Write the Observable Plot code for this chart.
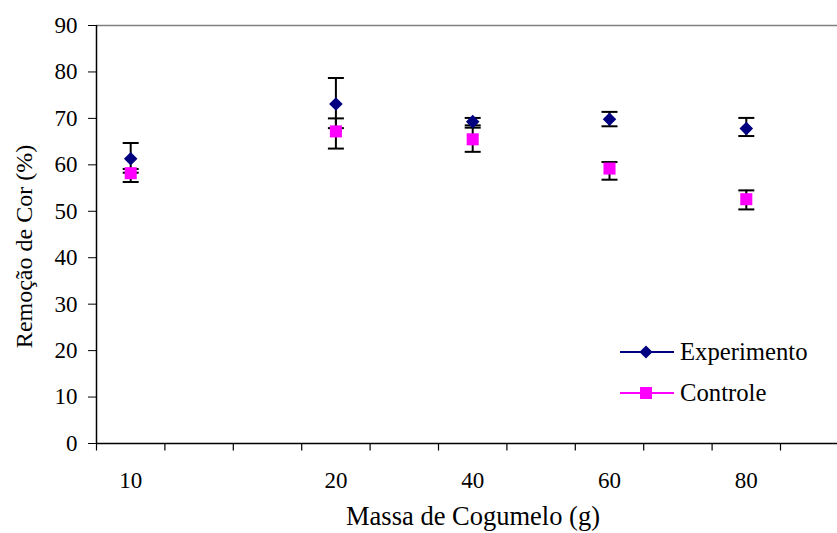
<!DOCTYPE html>
<html><head><meta charset="utf-8">
<script src="https://cdn.jsdelivr.net/npm/d3@7"></script>
<script src="https://cdn.jsdelivr.net/npm/@observablehq/plot@0.6"></script>
<style>
html,body{margin:0;padding:0;background:#fff;overflow:hidden}
</style>
</head><body><div id="chart"></div>
<script>
// Category axis (Excel-style, 11 category slots, only some labelled)
const massaLabels = ["10", "20", "40", "60", "80"];
const categorySlot = [0, 3, 5, 7, 9];
const slotCount = 11;
const yTicks = [0, 10, 20, 30, 40, 50, 60, 70, 80, 90];

// Series values
const seriesNames = ["Experimento", "Controle"];
const experimento   = [61.3, 73.1, 69.3, 69.8, 67.8];
const experimentoHi = [64.7, 78.7, 70.1, 71.4, 70.1];
const experimentoLo = [58.3, 67.9, 68.5, 68.3, 66.2];
const controle      = [58.2, 67.2, 65.5, 59.2, 52.6];
const controleHi    = [59.1, 70.0, 68.0, 60.6, 54.5];
const controleLo    = [56.3, 63.5, 62.8, 56.8, 50.4];

const expRows = massaLabels.map((m, i) => ({slot: categorySlot[i], massa: m, value: experimento[i], hi: experimentoHi[i], lo: experimentoLo[i]}));
const ctrlRows = massaLabels.map((m, i) => ({slot: categorySlot[i], massa: m, value: controle[i], hi: controleHi[i], lo: controleLo[i]}));
const allRows = expRows.concat(ctrlRows);
const boundaries = d3.range(slotCount + 1).map(i => i - 0.5);

const NAVY = "#000080", MAGENTA = "#FF00FF";
const FONT = "'Liberation Serif', 'Times New Roman', serif";
const capSymbol = {draw(ctx) { ctx.moveTo(-8, 0); ctx.lineTo(8, 0); }};
const tickDown = {draw(ctx) { ctx.moveTo(0, 0); ctx.lineTo(0, 7); }};
const slotPx = 68.4;

const chart = Plot.plot({
  width: 837,
  height: 533,
  marginLeft: 96,
  marginRight: 0,
  marginTop: 25,
  marginBottom: 90,
  style: {fontFamily: FONT, fontSize: "23px", color: "black", background: "white"},
  x: {
    domain: [-0.5, slotCount - 0.5],
    range: [96, 96 + slotCount * slotPx],
    ticks: categorySlot,
    tickFormat: d => massaLabels[categorySlot.indexOf(d)] ?? "",
    tickSize: 0,
    tickPadding: 28,
    label: null
  },
  y: {
    domain: [0, 90],
    range: [443, 25],
    ticks: yTicks,
    tickSize: 8,
    tickPadding: 11,
    label: null
  },
  marks: [
    Plot.ruleY([90], {stroke: "#808080", strokeWidth: 1.5}),
    Plot.ruleX([-0.5], {stroke: "black", strokeWidth: 1.5}),
    Plot.ruleY([0], {stroke: "black", strokeWidth: 1.5}),
    Plot.dot(boundaries, {x: d => d, frameAnchor: "bottom", symbol: tickDown, fill: "none", stroke: "black", strokeWidth: 1.2}),
    Plot.ruleX(allRows, {x: "slot", y1: "lo", y2: "hi", stroke: "black", strokeWidth: 2}),
    Plot.dot(allRows, {x: "slot", y: "hi", symbol: capSymbol, fill: "none", stroke: "black", strokeWidth: 2}),
    Plot.dot(allRows, {x: "slot", y: "lo", symbol: capSymbol, fill: "none", stroke: "black", strokeWidth: 2}),
    Plot.dot(expRows, {x: "slot", y: "value", symbol: "diamond2", r: 6.1, fill: NAVY, stroke: "none"}),
    Plot.dot(ctrlRows, {x: "slot", y: "value", symbol: "square", r: 6.8, fill: MAGENTA, stroke: "none"}),
    Plot.text(["Massa de Cogumelo (g)"], {frameAnchor: "bottom", textAnchor: "middle", dx: 6, dy: 81, fontSize: 26.5, fill: "black"}),
    Plot.text(["Remoção de Cor (%)"], {frameAnchor: "left", textAnchor: "middle", dx: -72, dy: 12, rotate: -90, fontSize: 24, fill: "black"})
  ]
});

// Axis tick label size (numeric tick labels)
const svg = d3.select(chart);
svg.selectAll("text").filter(function() { return /^\d+$/.test(this.textContent.trim()); })
  .attr("font-size", 23).style("font-size", "23px");

// Legend (inside the plot area, lower right)
const legendItems = [
  {name: seriesNames[0], color: NAVY, symbol: d3.symbolDiamond2, size: 110, y: 352},
  {name: seriesNames[1], color: MAGENTA, symbol: d3.symbolSquare, size: 144, y: 393}
];
const lg = svg.append("g").attr("font-family", FONT).attr("font-size", 24.7).attr("text-anchor", "start");
legendItems.forEach(it => {
  lg.append("line").attr("x1", 620).attr("x2", 674).attr("y1", it.y).attr("y2", it.y).attr("stroke", it.color).attr("stroke-width", 2);
  lg.append("path").attr("d", d3.symbol(it.symbol, it.size)()).attr("transform", `translate(646,${it.y})`).attr("fill", it.color);
  lg.append("text").attr("x", 680).attr("y", it.y).attr("dy", "0.34em").attr("fill", "black").text(it.name);
});

document.getElementById("chart").appendChild(chart);
</script>
</body></html>
